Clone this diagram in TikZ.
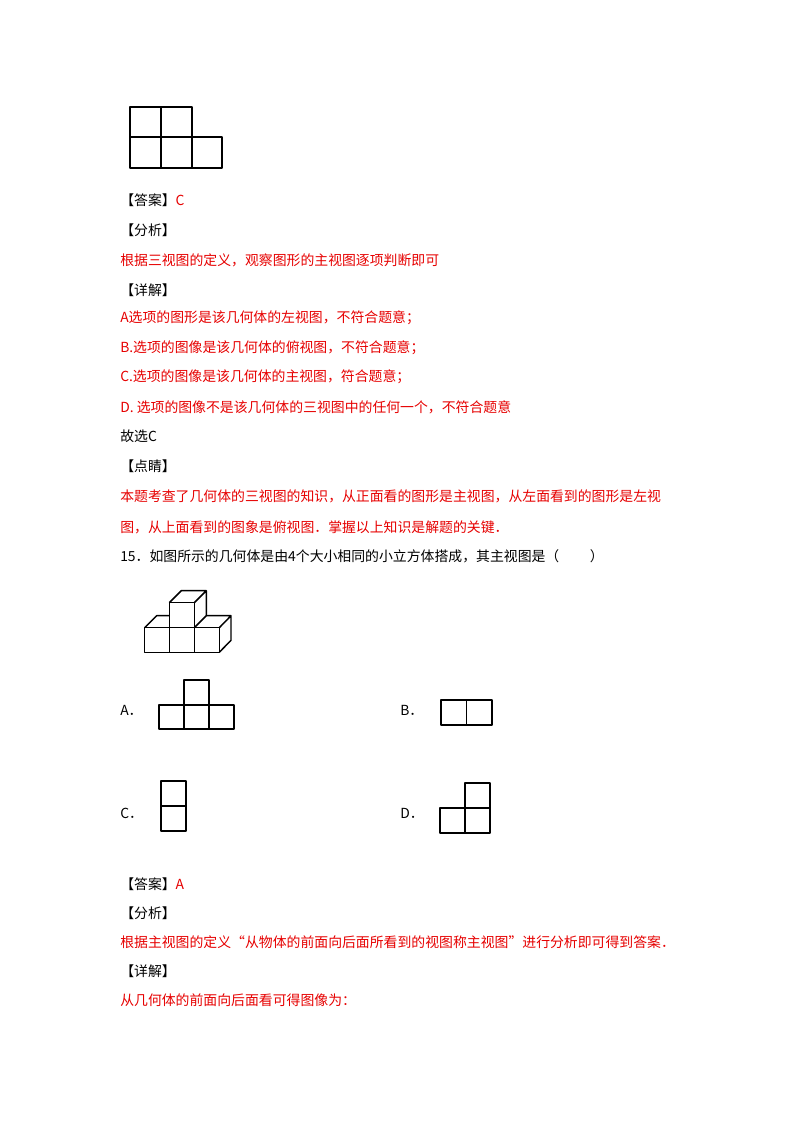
\documentclass[tikz,border=0pt]{standalone}
\usepackage{fontspec}
\setmainfont{Noto Sans CJK SC}
\begin{document}
\begin{tikzpicture}[x=0.75pt,y=-0.75pt,
  t/.style={anchor=west,inner sep=0pt,font=\fontsize{10.4}{12}\selectfont},
  r/.style={t,text={rgb,255:red,230;green,0;blue,0}},
  ln/.style={line width=1.1pt,line join=round}]
\useasboundingbox (0,0) rectangle (800,1132);
\definecolor{rd}{RGB}{230,0,0}
% top figure
\draw[ln] (130,107) rectangle (192,168) (161,107)--(161,168) (130,137)--(222,137)--(222,168)--(192,168);
\node[t] (a1) at (120,200) {【答案】\textcolor{rd}{C}};
\node[t] (a2) at (120,230) {【分析】};
\node[r] (a3) at (120,260) {根据三视图的定义，观察图形的主视图逐项判断即可};
\node[t] (a4) at (120,290) {【详解】};
\node[r] (a5) at (120,318) {A选项的图形是该几何体的左视图，不符合题意；};
\node[r] (a6) at (120,348) {B.选项的图像是该几何体的俯视图，不符合题意；};
\node[r] (a7) at (120,377) {C.选项的图像是该几何体的主视图，符合题意；};
\node[r] (a8) at (120,407) {D. 选项的图像不是该几何体的三视图中的任何一个，不符合题意};
\node[t] (a9) at (120,436) {故选C};
\node[t] (a10) at (120,466) {【点睛】};
\node[r] (a11) at (120,496) {本题考查了几何体的三视图的知识，从正面看的图形是主视图，从左面看到的图形是左视};
\node[r] (a12) at (120,527) {图，从上面看到的图象是俯视图．掌握以上知识是解题的关键．};
\node[t] (q) at (120,556) {15．如图所示的几何体是由4个大小相同的小立方体搭成，其主视图是（\hspace{2.2em}）};
% cubes
\draw[ln] (144.7,627.7) rectangle (219.3,652.3) (169.3,627.7)--(169.3,652.3) (194.3,627.7)--(194.3,652.3);
\draw[ln] (169.3,602.7) rectangle (194.3,627.7);
\draw[ln] (169.3,602.7)--(181.3,590.7)--(206.3,590.7)--(194.3,602.7) (206.3,590.7)--(206.3,615);
\draw[ln] (144.7,627.7)--(156.7,615.7)--(169.3,615.7);
\draw[ln] (194.3,627.7)--(206.3,615.7)--(231,615.7)--(219.3,627.7) (231,615.7)--(231,640.3)--(219.3,652.3);
% options
\node[t] (oa) at (120,710) {A．};
\draw[ln] (159,705) rectangle (234,729) (184,705)--(184,729) (209,705)--(209,729) (184,705)--(184,680)--(209,680)--(209,705);
\node[t] (ob) at (400,710) {B．};
\draw[ln] (441,700) rectangle (492,725) (466.5,700)--(466.5,725);
\node[t] (oc) at (120,813) {C．};
\draw[ln] (161,781) rectangle (186,831) (161,806)--(186,806);
\node[t] (od) at (400,813) {D．};
\draw[ln] (440,808) rectangle (490,833) (465,783) rectangle (490,833) (465,808)--(465,833);
\node[t] (b1) at (120,884) {【答案】\textcolor{rd}{A}};
\node[t] (b2) at (120,913) {【分析】};
\node[r] (b3) at (120,942) {根据主视图的定义“从物体的前面向后面所看到的视图称主视图”进行分析即可得到答案．};
\node[t] (b4) at (120,971) {【详解】};
\node[r] (b5) at (120,1000) {从几何体的前面向后面看可得图像为：};
\end{tikzpicture}
\end{document}
